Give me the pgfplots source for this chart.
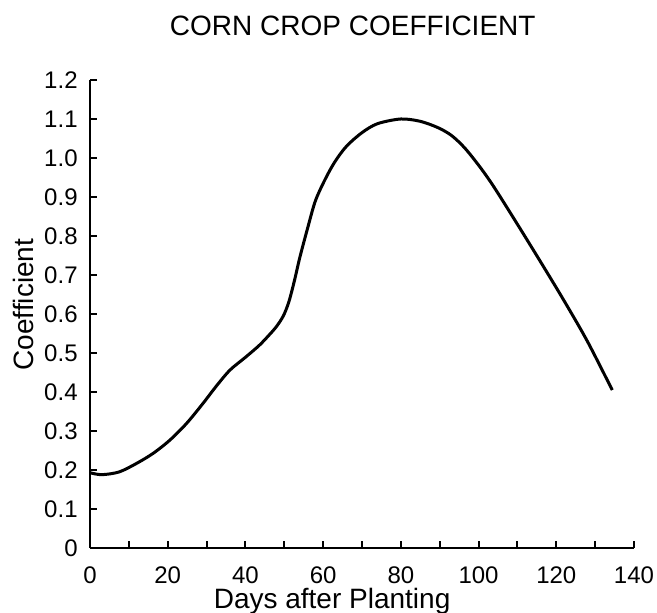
\documentclass[border=0pt]{standalone}
\usepackage{pgfplots}
\pgfplotsset{compat=1.18}
\usepackage{fontspec}
\setmainfont{Liberation Sans}
\begin{document}
\begin{tikzpicture}
\begin{axis}[
  scale only axis,
  width=272pt, height=234pt,
  xmin=0, xmax=140, ymin=0, ymax=1.2,
  axis lines=left,
  axis line style={-, line width=1.1pt},
  tick align=inside,
  major tick length=3.5pt, minor tick length=3.5pt,
  every tick/.style={black, line width=1pt},
  xtick={0,20,40,60,80,100,120,140},
  minor xtick={10,30,50,70,90,110,130},
  ytick={0,0.1,0.2,0.3,0.4,0.5,0.6,0.7,0.8,0.9,1.0,1.1,1.2},
  yticklabels={0,0.1,0.2,0.3,0.4,0.5,0.6,0.7,0.8,0.9,1.0,1.1,1.2},
  xticklabels={0,20,40,60,80,100,120,140},
  /pgf/number format/assume math mode=true,
  ticklabel style={font=\fontsize{12}{14}\selectfont},
  yticklabel style={anchor=east, inner sep=0pt, xshift=-6pt},
  xticklabel style={anchor=north, inner sep=0pt, yshift=-9pt},
  title={CORN CROP COEFFICIENT},
  title style={font=\fontsize{14}{16}\selectfont, at={(axis description cs:0.483,1.09)}, anchor=center},
  xlabel={Days after Planting},
  xlabel style={font=\fontsize{14}{16}\selectfont, at={(axis description cs:0.445,-0.113)}, anchor=center},
  ylabel={Coefficient},
  ylabel style={font=\fontsize{14}{16}\selectfont, at={(axis description cs:-0.123,0.52)}, anchor=center, rotate=0},
  clip=false,
]
\addplot[smooth, black, line width=1.5pt] coordinates {
(0,0.193)(3,0.188)(7.5,0.195)(12,0.217)(16.3,0.243)(20.6,0.277)(24.9,0.32)(29.1,0.371)(32.5,0.415)(36,0.456)(40,0.489)(43.5,0.519)(46,0.545)(48,0.568)(49.8,0.596)(51.2,0.632)(52.6,0.685)(54,0.745)(56,0.82)(58,0.89)(60.5,0.945)(63,0.99)(66,1.03)(70,1.065)(74,1.088)(80,1.1)(85,1.094)(89.5,1.078)(93,1.058)(96.5,1.025)(100.5,0.975)(104,0.925)(110,0.83)(116,0.733)(122,0.634)(128,0.53)(134.4,0.405)
};
\coordinate (O) at (rel axis cs:0,0);
\end{axis}
\pgfresetboundingbox
\path (O) ++(-45pt,-32.5pt) rectangle ++(328.5pt,306.5pt);
\end{tikzpicture}
\end{document}
